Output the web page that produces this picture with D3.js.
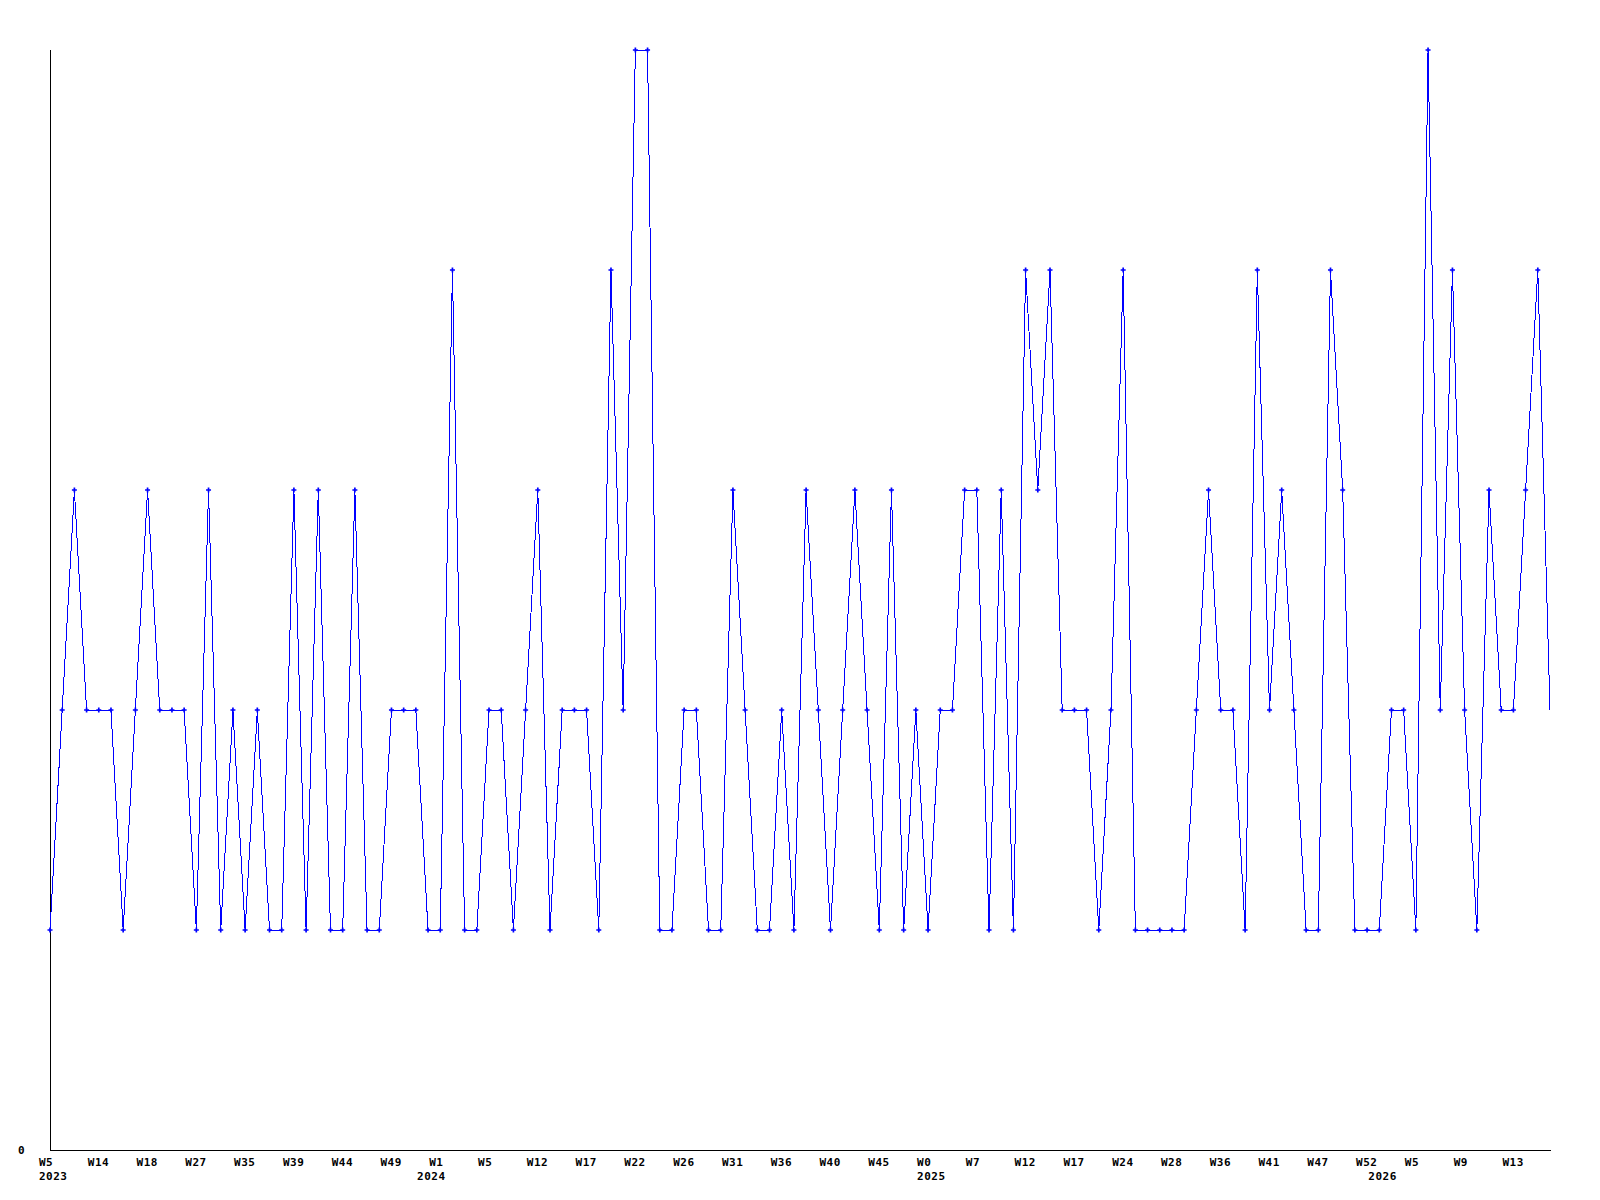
<!DOCTYPE html>
<html>
<head>
<meta charset="utf-8">
<script src="https://cdn.jsdelivr.net/npm/d3@7"></script>
<style>
  html, body { margin: 0; padding: 0; background: #fff; }
  svg { display: block; }
  text { font-family: "DejaVu Sans Mono", "Liberation Mono", monospace; font-weight: bold; font-size: 11px; letter-spacing: 0.5px; fill: #000; }
</style>
</head>
<body>
<svg id="chart" width="1600" height="1200"></svg>
<script>
// ---- data ----
const values = [
  1,2,3,2,2,2,1,2,3,2, 2,2,1,3,1,2,1,2,1,1,
  3,1,3,1,1,3,1,1,2,2, 2,1,1,4,1,1,2,2,1,2,
  3,1,2,2,2,1,4,2,5,5, 1,1,2,2,1,1,3,2,1,1,
  2,1,3,2,1,2,3,2,1,3, 1,2,1,2,2,3,3,1,3,1,
  4,3,4,2,2,2,1,2,4,1, 1,1,1,1,2,3,2,2,1,4,
  2,3,2,1,1,4,3,1,1,1, 2,2,1,5,2,4,2,1,3,2,
  2,3,4,2
];
const tickLabels = [
  "W5","W14","W18","W27","W35","W39","W44","W49","W1","W5",
  "W12","W17","W22","W26","W31","W36","W40","W45","W0","W7",
  "W12","W17","W24","W28","W36","W41","W47","W52","W5","W9","W13"
];
const tickEvery = 4;
const yearLabels = ["2023","2024","2025","2026"];
const yearStartIndex = [0, 31, 72, 109];
const yTicks = [0];

// ---- layout ----
const svg = d3.select("#chart");
const x0 = 50, x1 = 1550, yTop = 50, yBot = 1150;

const idx = values.map((d, i) => i);
const x = d3.scalePoint().domain(idx).range([x0, x1]);
const y = d3.scaleLinear().domain([0, 5]).range([yBot, yTop]);

// axes lines
svg.append("line").attr("x1", x0 + 0.5).attr("x2", x0 + 0.5).attr("y1", yTop).attr("y2", yBot + 0.5)
  .attr("stroke", "#000").attr("stroke-width", 1).attr("shape-rendering", "crispEdges");
svg.append("line").attr("x1", x0).attr("x2", x1 + 1).attr("y1", yBot + 0.5).attr("y2", yBot + 0.5)
  .attr("stroke", "#000").attr("stroke-width", 1).attr("shape-rendering", "crispEdges");

// y tick label
const yAxis = d3.axisLeft(y).tickValues(yTicks).tickSize(0).tickPadding(25).tickFormat(d3.format("d"));
const gy = svg.append("g").attr("transform", `translate(${x0},0)`).call(yAxis);
gy.select(".domain").remove();
gy.selectAll("text").attr("font-family", null).attr("font-size", null).attr("dy", "0.35em");

// x tick labels
const tickIdx = tickLabels.map((d, k) => k * tickEvery);
svg.append("g").selectAll("text").data(tickLabels).join("text")
  .attr("x", (d, k) => x(tickIdx[k]) - 11)
  .attr("y", 1166)
  .attr("text-anchor", "start")
  .text(d => d);

// year labels
svg.append("g").selectAll("text").data(yearLabels).join("text")
  .attr("x", (d, k) => x(yearStartIndex[k]) - 11)
  .attr("y", 1180)
  .attr("text-anchor", "start")
  .text(d => d);

// line
const line = d3.line().x((d, i) => x(i)).y(d => y(d));
svg.append("path").datum(values)
  .attr("d", line)
  .attr("fill", "none")
  .attr("stroke", "#0000ff")
  .attr("stroke-width", 1)
  .attr("shape-rendering", "crispEdges");

// markers (all but last point)
const sym = d3.symbol().type(d3.symbolCross).size(14);
svg.append("g").selectAll("path").data(values.slice(0, -1)).join("path")
  .attr("transform", (d, i) => `translate(${x(i)},${y(d)})`)
  .attr("d", sym)
  .attr("fill", "#0000ff");
</script>
</body>
</html>
